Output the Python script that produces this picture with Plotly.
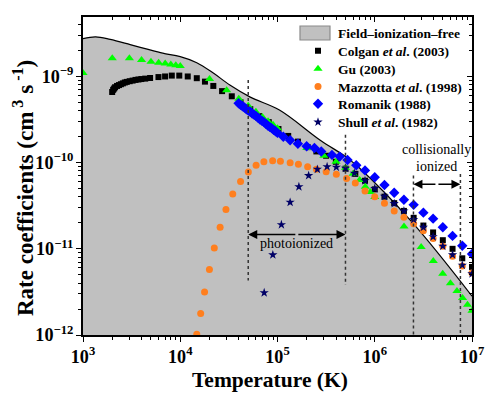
import numpy as np
import plotly.graph_objects as go

# ---- data (log10 T [K], log10 rate [cm^3 s^-1]) ----
fif_logT = [3.0, 3.13, 3.28, 3.485, 3.65, 3.82, 4.0, 4.17, 4.34, 4.51, 4.72, 5.02, 5.44, 5.70, 5.84, 6.39, 7.0]
fif_logR = [-8.56, -8.54, -8.57, -8.63, -8.68, -8.73, -8.77, -8.84, -8.96, -9.10, -9.24, -9.39, -9.74, -9.93, -10.06, -10.70, -11.55]

colgan_logT = [3.30, 3.31, 3.32, 3.33, 3.35, 3.37, 3.39, 3.41, 3.43, 3.45, 3.48, 3.51, 3.54, 3.57, 3.60, 3.64, 3.69,
               3.776, 3.844, 3.913, 3.99, 4.077, 4.17, 4.254, 4.34, 4.43, 4.53, 4.62, 4.72, 4.81, 4.91, 5.01, 5.11,
               5.21, 5.31, 5.40, 5.50, 5.60, 5.70, 5.80, 5.90, 6.0, 6.1, 6.2, 6.3, 6.4, 6.5, 6.6, 6.7, 6.8, 6.9, 7.0]
colgan_logR = [-9.18, -9.155, -9.14, -9.125, -9.11, -9.10, -9.09, -9.08, -9.07, -9.063, -9.055, -9.048, -9.04, -9.035,
               -9.03, -9.025, -9.018, -9.007, -9.0, -8.99, -8.99, -9.0, -9.02, -9.06, -9.11, -9.17, -9.23, -9.30, -9.38,
               -9.46, -9.53, -9.61, -9.69, -9.756, -9.82, -9.87, -9.92, -9.99, -10.07, -10.13, -10.21, -10.31, -10.395,
               -10.47, -10.56, -10.64, -10.73, -10.81, -10.90, -11.0, -11.11, -11.21]

gu_logT = [3.0, 3.301, 3.477, 3.602, 3.699, 3.778, 3.845, 3.903, 3.954, 4.0, 4.301, 4.477, 4.602, 4.699, 4.778, 4.845,
           4.903, 4.954, 5.0, 5.301, 5.477, 5.602, 5.699, 5.778, 5.845, 5.903, 5.954, 6.0, 6.301, 6.477, 6.602, 6.699,
           6.778, 6.845, 6.903, 6.954, 7.0]
gu_logR = [-8.96, -8.79, -8.79, -8.81, -8.83, -8.84, -8.85, -8.86, -8.87, -8.88, -9.03, -9.16, -9.26, -9.34, -9.41, -9.47,
           -9.52, -9.56, -9.60, -9.83, -9.92, -9.99, -10.06, -10.13, -10.20, -10.28, -10.34, -10.40, -10.74, -10.98,
           -11.14, -11.29, -11.40, -11.49, -11.57, -11.65, -11.72]

mazzotta_logT = [4.17, 4.21, 4.25, 4.30, 4.35, 4.41, 4.47, 4.54, 4.62, 4.70, 4.78, 4.86, 4.95, 5.03, 5.13, 5.215, 5.31,
                 5.40, 5.50, 5.605, 5.71, 5.80, 5.90, 6.0, 6.1, 6.2, 6.3, 6.4, 6.5, 6.6, 6.7, 6.8, 6.9, 7.0]
mazzotta_logR = [-11.99, -11.75, -11.50, -11.24, -10.99, -10.75, -10.545, -10.364, -10.22, -10.11, -10.03, -9.99,
                 -9.977, -9.984, -10.0, -10.02, -10.047, -10.077, -10.105, -10.135, -10.185, -10.235, -10.33, -10.395,
                 -10.47, -10.56, -10.635, -10.71, -10.79, -10.88, -10.97, -11.085, -11.2, -11.28]

romanik_logT = [4.60, 4.62, 4.64, 4.66, 4.68, 4.70, 4.72, 4.74, 4.76, 4.78, 4.80, 4.82, 4.84, 4.86, 4.88, 4.90, 4.92,
                4.94, 4.96, 4.98, 5.00, 5.06, 5.13, 5.21, 5.30, 5.38, 5.45, 5.56, 5.64, 5.72, 5.81, 5.90, 6.0, 6.1,
                6.2, 6.3, 6.4, 6.5, 6.6, 6.7, 6.8, 6.9, 7.0]
romanik_logR = [-9.31, -9.33, -9.345, -9.36, -9.38, -9.395, -9.41, -9.43, -9.445, -9.46, -9.48, -9.50, -9.515, -9.53,
                -9.55, -9.57, -9.585, -9.60, -9.62, -9.635, -9.655, -9.70, -9.74, -9.78, -9.81, -9.83, -9.87, -9.91,
                -9.93, -9.97, -10.03, -10.09, -10.17, -10.26, -10.35, -10.43, -10.49, -10.58, -10.65, -10.75, -10.85,
                -10.965, -11.06]

shull_logT = [4.863, 4.952, 5.04, 5.13, 5.22, 5.32, 5.41, 5.51, 5.605, 5.70, 5.79, 5.90, 6.0, 6.1, 6.2, 6.3, 6.4, 6.5,
              6.6, 6.7, 6.8, 6.9, 7.0]
shull_logR = [-11.51, -11.07, -10.72, -10.46, -10.28, -10.15, -10.077, -10.047, -10.053, -10.065, -10.123, -10.21,
              -10.30, -10.39, -10.475, -10.56, -10.66, -10.75, -10.86, -10.97, -11.07, -11.19, -11.29]

# region markers: vertical dotted boundaries (T, y_top, y_bottom) and labelled arrows
bound_T = [5e4, 5e5, 2.5e6, 7.6e6]
bound_top = [9.1e-10, 2.1e-10, 7.1e-11, 7.4e-11]
bound_bot = [4.3e-12, 3.8e-12, 1e-12, 1e-12]
photo_span = [5e4, 5e5]
photo_level = 1.47e-11
coll_span = [2.5e6, 7.6e6]
coll_level = 5.6e-11

def p(v):
    return list(np.power(10.0, v))

SERIF = "Liberation Serif"
# figure sits 8px in from the page's top-left corner (body margin)
W, H = 492, 388
ML, MR, MT, MB = 75, 28, 9, 61
PW, PH = W - ML - MR, H - MT - MB
PLOT_TOP_PAGE, PLOT_LEFT_PAGE = 8 + MT, 8 + ML

def px_x(page_x):
    return (page_x - PLOT_LEFT_PAGE) / PW

def px_y(page_y):
    return 1 - (page_y - PLOT_TOP_PAGE) / PH

fig = go.Figure()

# base for the filled region
fig.add_trace(go.Scatter(x=[1e3, 1e7], y=[1e-12, 1e-12], mode="lines", line=dict(width=0),
                         showlegend=False, hoverinfo="skip"))
fig.add_trace(go.Scatter(x=p(fif_logT), y=p(fif_logR), mode="lines", line=dict(color="black", width=1.2, shape="spline"),
                         fill="tonexty", fillcolor="#c0c0c0", showlegend=False))
# legend entry for the filled region (swatch drawn as a shape)
fig.add_trace(go.Scatter(x=[None], y=[None], mode="markers", marker=dict(color="rgba(0,0,0,0)", size=1),
                         name="Field–ionization–free", legend="legend"))

fig.add_trace(go.Scatter(x=p(colgan_logT), y=p(colgan_logR), mode="markers", name="Colgan <i>et al</i>. (2003)",
                         marker=dict(symbol="square", size=6, color="black"), legend="legend2"))
fig.add_trace(go.Scatter(x=p(gu_logT), y=p(gu_logR), mode="markers", name="Gu (2003)",
                         marker=dict(symbol="triangle-up", size=8, color="#00ff00"), legend="legend3"))
fig.add_trace(go.Scatter(x=p(mazzotta_logT), y=p(mazzotta_logR), mode="markers", name="Mazzotta <i>et al</i>. (1998)",
                         marker=dict(symbol="circle", size=7, color="#ff7f1e"), legend="legend4"))
fig.add_trace(go.Scatter(x=p(romanik_logT), y=p(romanik_logR), mode="markers", name="Romanik (1988)",
                         marker=dict(symbol="diamond", size=8, color="#0000ff"), legend="legend5"))
fig.add_trace(go.Scatter(x=p(shull_logT), y=p(shull_logR), mode="markers", name="Shull <i>et al</i>. (1982)",
                         marker=dict(symbol="star", size=7, color="#000066"), legend="legend6"))

for t, y0, y1 in zip(bound_T, bound_top, bound_bot):
    fig.add_trace(go.Scatter(x=[t, t], y=[y0, y1], mode="lines", showlegend=False, hoverinfo="skip",
                             line=dict(color="#333333", width=1.5, dash="dot")))

# dummy trace for top/right inside-tick axes
fig.add_trace(go.Scatter(x=[1e3], y=[1e-12], xaxis="x2", yaxis="y2", mode="markers",
                         marker=dict(opacity=0), showlegend=False, hoverinfo="skip"))

def double_arrow(span, level):
    lx = [np.log10(v) for v in span]
    mid = (lx[0] + lx[1]) / 2
    ly = np.log10(level)
    for end in lx:
        fig.add_annotation(x=end, y=ly, ax=mid, ay=ly, xref="x", yref="y", axref="x", ayref="y",
                           text="", showarrow=True, arrowhead=2, arrowsize=1.2, arrowwidth=1.5, arrowcolor="black")

double_arrow(photo_span, photo_level)
double_arrow(coll_span, coll_level)

fig.add_annotation(x=np.mean(np.log10(photo_span)), y=np.log10(photo_level), yshift=-9, text="photoionized",
                   showarrow=False, font=dict(family=SERIF, size=14, color="black"))
fig.add_annotation(x=np.mean(np.log10(coll_span)), y=np.log10(coll_level), yshift=35, text="collisionally",
                   showarrow=False, font=dict(family=SERIF, size=14, color="black"))
fig.add_annotation(x=np.mean(np.log10(coll_span)), y=np.log10(coll_level), yshift=18, text="ionized",
                   showarrow=False, font=dict(family=SERIF, size=14, color="black"))

# axis titles placed where the reference has them
fig.add_annotation(x=px_x(270), y=px_y(380), xref="paper", yref="paper", showarrow=False,
                   text="Temperature (K)", xanchor="center", yanchor="middle",
                   font=dict(family=SERIF, size=21.5, color="black", weight="bold"))
fig.add_annotation(x=px_x(23), y=px_y(188), xref="paper", yref="paper", showarrow=False, textangle=-90,
                   text="Rate coefficients (cm<sup> 3</sup> s<sup> -1</sup>)", xanchor="center", yanchor="middle",
                   font=dict(family=SERIF, size=23, color="black", weight="bold"))

tickfont = dict(family=SERIF, size=14.5, color="black", weight="bold")

# one legend per entry so the rows sit at the reference spacing (page pixel rows)
legend_font = dict(family=SERIF, size=13.5, color="black", weight="bold")
row_px = [33.3, 51, 69, 86.7, 104, 122.3]
legends = {}
for i, py in enumerate(row_px):
    key = "legend" if i == 0 else f"legend{i + 1}"
    legends[key] = dict(x=px_x(298), y=px_y(py), xanchor="left", yanchor="middle",
                        bgcolor="rgba(0,0,0,0)", font=legend_font, itemwidth=30)

fig.add_shape(type="rect", xref="paper", yref="paper",
              x0=px_x(300), x1=px_x(330), y0=px_y(40), y1=px_y(26),
              fillcolor="#c0c0c0", line=dict(color="#8a8a8a", width=1.2))

fig.update_layout(
    width=W, height=H,
    margin=dict(l=ML, r=MR, t=MT, b=MB),
    paper_bgcolor="white", plot_bgcolor="white",
    showlegend=True,
    xaxis=dict(type="log", range=[3, 7], dtick=1, exponentformat="power", showexponent="all", automargin=False,
               ticks="outside", ticklen=5, tickwidth=1.2, tickcolor="black",
               minor=dict(ticks="outside", ticklen=3, tickwidth=1, tickcolor="black", dtick="D1"),
               showline=True, linecolor="black", linewidth=1.5, mirror=True, showgrid=False, zeroline=False,
               tickfont=tickfont),
    yaxis=dict(type="log", range=[-12, -8.31], dtick=1, exponentformat="power", showexponent="all", automargin=False,
               ticks="outside", ticklen=5, tickwidth=1.2, tickcolor="black",
               minor=dict(ticks="outside", ticklen=3, tickwidth=1, tickcolor="black", dtick="D1"),
               showline=True, linecolor="black", linewidth=1.5, mirror=True, showgrid=False, zeroline=False,
               tickfont=tickfont),
    xaxis2=dict(type="log", range=[3, 7], overlaying="x", side="top", dtick=1, showticklabels=False, automargin=False,
                ticks="inside", ticklen=5, tickwidth=1.2, tickcolor="black",
                minor=dict(ticks="inside", ticklen=3, tickwidth=1, tickcolor="black", dtick="D1"),
                showgrid=False, zeroline=False, showline=False),
    yaxis2=dict(type="log", range=[-12, -8.31], overlaying="y", side="right", anchor="x2", dtick=1, automargin=False,
                showticklabels=False, ticks="inside", ticklen=5, tickwidth=1.2, tickcolor="black",
                minor=dict(ticks="inside", ticklen=3, tickwidth=1, tickcolor="black", dtick="D1"),
                showgrid=False, zeroline=False, showline=False),
    **legends,
)

fig.write_html("out.html")
